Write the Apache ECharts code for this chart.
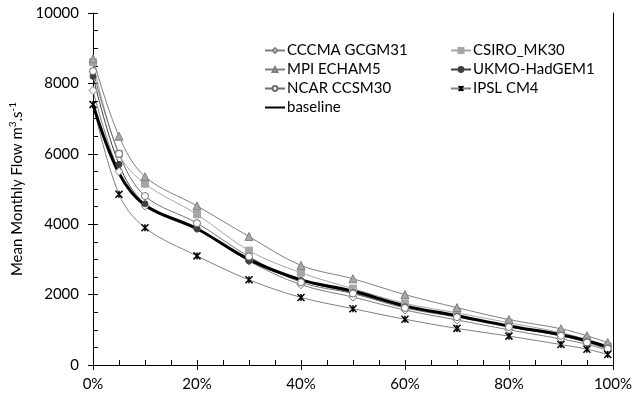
<!DOCTYPE html>
<html><head><meta charset="utf-8">
<script src="https://cdn.jsdelivr.net/npm/echarts@6/dist/echarts.min.js"></script>
<style>html,body{margin:0;padding:0;background:#fff}#c{width:635px;height:404px}</style>
</head><body><div id="c"></div>
<script>
var xPct = [0, 5, 10, 20, 30, 40, 50, 60, 70, 80, 90, 95, 99];
var cccma = [7800, 5500, 4520, 3870, 2950, 2280, 1930, 1560, 1280, 1000, 740, 590, 420];
var csiro = [8600, 6000, 5150, 4280, 3250, 2620, 2170, 1750, 1480, 1200, 920, 720, 530];
var mpi = [8700, 6500, 5350, 4520, 3650, 2830, 2450, 2000, 1630, 1290, 1030, 830, 640];
var ukmo = [8200, 5700, 4580, 3870, 2960, 2400, 2050, 1650, 1380, 1100, 840, 660, 480];
var ncar = [8350, 6000, 4800, 4030, 3080, 2350, 2030, 1620, 1360, 1080, 830, 640, 460];
var ipsl = [7400, 4850, 3900, 3100, 2420, 1920, 1600, 1300, 1040, 820, 580, 450, 300];
var baseline = [7400, 5450, 4540, 3870, 3000, 2420, 2100, 1680, 1400, 1110, 860, 690, 510];
var yTicks = [0, 2000, 4000, 6000, 8000, 10000];
var xTicks = [0, 20, 40, 60, 80, 100];

function pairs(v){ return xPct.map(function(x,i){return [x, v[i]];}); }
var FONT = 'Lato';
var star = 'path://M0,0L10,10M10,0L0,10M5,0L5,10';

function mk(name, data, opt){
  return Object.assign({
    name: name, type: 'line', data: pairs(data), smooth: 0.35,
    xAxisIndex: 0, yAxisIndex: 0
  }, opt);
}

var series = [
  mk('CCCMA GCGM31', cccma, {symbol:'diamond', symbolSize:8, lineStyle:{color:'#7f7f7f', width:1},
     itemStyle:{color:'#fff', borderColor:'#7f7f7f', borderWidth:1}}),
  mk('CSIRO_MK30', csiro, {symbol:'rect', symbolSize:7, lineStyle:{color:'#a6a6a6', width:1},
     itemStyle:{color:'#a6a6a6', borderColor:'#a6a6a6', borderWidth:1}}),
  mk('MPI ECHAM5', mpi, {symbol:'triangle', symbolSize:8, lineStyle:{color:'#7f7f7f', width:1},
     itemStyle:{color:'#a6a6a6', borderColor:'#7f7f7f', borderWidth:1}}),
  mk('UKMO-HadGEM1', ukmo, {symbol:'circle', symbolSize:6, lineStyle:{color:'#404040', width:1},
     itemStyle:{color:'#404040', borderColor:'#404040', borderWidth:1}}),
  mk('NCAR CCSM30', ncar, {symbol:'circle', symbolSize:7, lineStyle:{color:'#6f6f6f', width:1},
     itemStyle:{color:'#fff', borderColor:'#6f6f6f', borderWidth:1}}),
  mk('IPSL CM4', ipsl, {symbol:star, symbolSize:7, lineStyle:{color:'#808080', width:1},
     itemStyle:{color:'#000', borderColor:'#000', borderWidth:1.5}}),
  mk('baseline', baseline, {symbol:'none', lineStyle:{color:'#000', width:3}, itemStyle:{color:'#000'}})
];

var chart = echarts.init(document.getElementById('c'), null, {renderer:'canvas'});
var axisTxt = {color:'#000', fontFamily:FONT, fontSize:15};
var legendBase = {orient:'vertical', top:38, itemGap:4, itemWidth:20, itemHeight:6,
  textStyle:{color:'#000', fontFamily:FONT, fontSize:15, padding:[0,0,0,-3]}};
chart.setOption({
  animation:false,
  backgroundColor:'#fff',
  grid:{left:93, right:21, top:13, bottom:39},
  legend:[
    Object.assign({}, legendBase, {left:259, data:['CCCMA GCGM31','MPI ECHAM5','NCAR CCSM30',
      {name:'baseline', itemStyle:{opacity:0}}]}),
    Object.assign({}, legendBase, {left:445, data:['CSIRO_MK30','UKMO-HadGEM1','IPSL CM4']})
  ],
  xAxis:[
    {type:'value', min:0, max:100, interval:20, position:'bottom',
     axisLine:{show:true, lineStyle:{color:'#000', width:1}},
     axisTick:{show:true, inside:true, length:5, lineStyle:{color:'#000'}},
     minorTick:{show:true, splitNumber:4, length:5, lineStyle:{color:'#000'}},
     splitLine:{show:false},
     axisLabel:Object.assign({margin:12, formatter:function(v){return v+'%';}}, axisTxt)},
    {type:'value', min:0, max:100, interval:20, position:'bottom',
     axisLine:{show:false}, axisTick:{show:true, inside:false, length:5, lineStyle:{color:'#000'}},
     axisLabel:{show:false}, splitLine:{show:false}}
  ],
  yAxis:[
    {type:'value', min:0, max:10000, interval:2000, position:'left',
     axisLine:{show:true, lineStyle:{color:'#000', width:1}},
     axisTick:{show:true, inside:true, length:5, lineStyle:{color:'#000'}},
     minorTick:{show:true, splitNumber:4, length:5, lineStyle:{color:'#000'}},
     splitLine:{show:false},
     axisLabel:Object.assign({margin:14, formatter:function(v){return String(v);}}, axisTxt),
     name:'Mean Monthly Flow m{sup|3}.s{sup|-1}', nameLocation:'middle', nameGap:59,
     nameTextStyle:{color:'#000', fontFamily:FONT, fontSize:15,
       rich:{sup:{fontFamily:FONT, fontSize:10, verticalAlign:'top', padding:[0,0,8,0], color:'#000'}}}},
    {type:'value', min:0, max:10000, interval:2000, position:'left',
     axisLine:{show:false}, axisTick:{show:true, inside:false, length:5, lineStyle:{color:'#000'}},
     axisLabel:{show:false}, splitLine:{show:false}},
    {type:'value', min:0, max:10000, interval:2000, position:'right',
     axisLine:{show:true, lineStyle:{color:'#000', width:1}}, axisTick:{show:false},
     axisLabel:{show:false}, splitLine:{show:false}}
  ],
  series: series
});
</script></body></html>
